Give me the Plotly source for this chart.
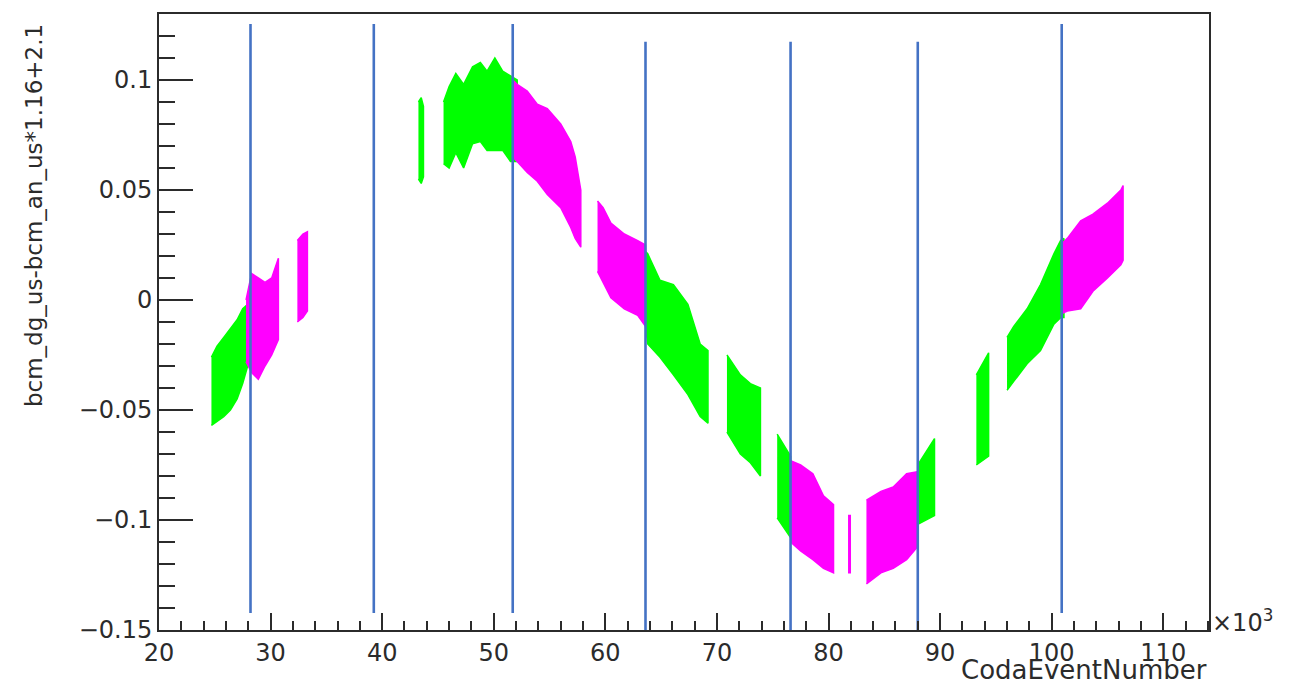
import plotly.graph_objects as go

# Event ranges of each run: colour, event numbers (x10^3) and the upper / lower
# edge of the point cloud at those event numbers.
run_color = ["g", "m", "m", "g", "g", "m", "m", "g", "g", "g", "m", "m", "m", "g", "g", "g", "m"]
run_x = [
    [24.7, 25.2, 25.8, 26.4, 27.0, 27.5, 27.95],
    [27.8, 28.3, 28.9, 29.5, 30.1, 30.7],
    [32.4, 32.9, 33.3],
    [43.25, 43.5, 43.7],
    [45.5, 46.0, 46.6, 47.3, 48.1, 48.8, 49.4, 50.1, 50.8, 51.5, 52.1],
    [51.7, 52.1, 53.0, 53.9, 54.8, 56.0, 56.9, 57.3, 57.8],
    [59.3, 59.8, 60.5, 61.7, 62.9, 63.6],
    [63.6, 63.8, 64.9, 66.1, 67.4, 68.5, 69.2],
    [70.9, 72.1, 73.0, 73.9],
    [75.4, 76.6],
    [76.6, 77.5, 78.6, 79.55, 80.45],
    [81.75, 81.95],
    [83.4, 84.7, 85.8, 87.0, 88.0],
    [88.0, 89.5],
    [93.25, 94.35],
    [96.0, 96.6, 97.8, 99.0, 100.2, 100.8, 101.1],
    [101.0, 101.4, 102.6, 103.7, 105.0, 106.2, 106.4],
]
run_hi = [
    [-0.026, -0.021, -0.017, -0.013, -0.009, -0.004, -0.002],
    [0.000, 0.012, 0.010, 0.008, 0.010, 0.019],
    [0.027, 0.030, 0.031],
    [0.090, 0.092, 0.088],
    [0.090, 0.097, 0.103, 0.098, 0.106, 0.108, 0.104, 0.110, 0.104, 0.102, 0.100],
    [0.100, 0.098, 0.095, 0.089, 0.087, 0.080, 0.072, 0.065, 0.050],
    [0.045, 0.042, 0.035, 0.030, 0.027, 0.025],
    [0.022, 0.021, 0.009, 0.007, -0.002, -0.020, -0.023],
    [-0.025, -0.034, -0.038, -0.040],
    [-0.061, -0.071],
    [-0.073, -0.075, -0.079, -0.089, -0.093],
    [-0.098, -0.098],
    [-0.091, -0.087, -0.085, -0.079, -0.078],
    [-0.075, -0.063],
    [-0.034, -0.024],
    [-0.017, -0.012, -0.004, 0.007, 0.021, 0.027, 0.028],
    [0.026, 0.028, 0.036, 0.039, 0.044, 0.050, 0.052],
]
run_lo = [
    [-0.057, -0.055, -0.053, -0.050, -0.045, -0.038, -0.030],
    [-0.028, -0.033, -0.036, -0.030, -0.025, -0.018],
    [-0.010, -0.008, -0.005],
    [0.055, 0.053, 0.056],
    [0.062, 0.060, 0.067, 0.060, 0.071, 0.072, 0.068, 0.068, 0.068, 0.063, 0.063],
    [0.065, 0.063, 0.058, 0.054, 0.048, 0.042, 0.033, 0.028, 0.024],
    [0.013, 0.008, 0.001, -0.004, -0.007, -0.012],
    [-0.012, -0.020, -0.026, -0.034, -0.043, -0.053, -0.056],
    [-0.060, -0.070, -0.074, -0.080],
    [-0.099, -0.108],
    [-0.110, -0.114, -0.118, -0.122, -0.124],
    [-0.124, -0.124],
    [-0.129, -0.124, -0.122, -0.118, -0.112],
    [-0.102, -0.098],
    [-0.075, -0.071],
    [-0.041, -0.037, -0.029, -0.023, -0.011, -0.008, -0.008],
    [-0.006, -0.005, -0.004, 0.004, 0.010, 0.016, 0.018],
]

# Event-number cuts marked as vertical lines (x10^3), with their extent in y.
cut_x = [28.2, 39.25, 51.7, 63.6, 76.6, 88.0, 100.9]
cut_top = [0.1255, 0.1255, 0.1255, 0.1174, 0.1174, 0.1174, 0.1255]
cut_bottom = [-0.1423, -0.1423, -0.1423, -0.15, -0.15, -0.15, -0.1423]

palette = {"g": "#00ff00", "m": "#ff00ff"}
FONT = "DejaVu Sans, Verdana, sans-serif"
INK = "#2b2b2b"

fig = go.Figure()

for col, xs, hi, lo in zip(run_color, run_x, run_hi, run_lo):
    fig.add_trace(go.Scatter(
        x=xs + xs[::-1], y=hi + lo[::-1],
        mode="lines", fill="toself",
        fillcolor=palette[col],
        line=dict(color=palette[col], width=1.5),
        hoverinfo="skip", showlegend=False,
    ))

for cx, ct, cb in zip(cut_x, cut_top, cut_bottom):
    fig.add_trace(go.Scatter(
        x=[cx, cx], y=[cb, ct], mode="lines",
        line=dict(color="#4472c4", width=2.6),
        hoverinfo="skip", showlegend=False,
    ))

axis_common = dict(
    showgrid=False, zeroline=False,
    showline=True, linecolor=INK, linewidth=2, mirror=True,
    ticks="inside", tickcolor=INK, tickwidth=2,
    tickfont=dict(family=FONT, size=24, color=INK),
)

fig.update_xaxes(
    range=[20, 114.1], tick0=20, dtick=10, ticklen=17,
    minor=dict(dtick=2, ticks="inside", ticklen=9, tickwidth=2, tickcolor=INK),
    **axis_common,
)
fig.update_yaxes(
    range=[-0.15, 0.13], tick0=-0.15, dtick=0.05, ticklen=34,
    tickformat="~g",
    minor=dict(dtick=0.01, ticks="inside", ticklen=16, tickwidth=2, tickcolor=INK),
    **axis_common,
)

fig.add_annotation(
    text="bcm_dg_us-bcm_an_us*1.16+2.1", textangle=-90,
    xref="paper", yref="paper", x=-0.1195, y=0.987,
    xanchor="center", yanchor="top", showarrow=False,
    font=dict(family=FONT, size=23, color=INK),
)
fig.add_annotation(
    text="CodaEventNumber",
    xref="paper", yref="paper", x=1.0, y=0,
    xanchor="right", yanchor="middle", yshift=-40, showarrow=False,
    font=dict(family=FONT, size=26, color=INK),
)
fig.add_annotation(
    text="×10<sup>3</sup>",
    xref="paper", yref="paper", x=1.0, y=0,
    xanchor="left", yanchor="middle", xshift=1, yshift=9, showarrow=False,
    font=dict(family=FONT, size=24, color=INK),
)

fig.update_layout(
    width=1301, height=686,
    margin=dict(l=159, r=92, t=12, b=56),
    paper_bgcolor="white", plot_bgcolor="white",
    showlegend=False,
)

fig.write_html("out.html")
